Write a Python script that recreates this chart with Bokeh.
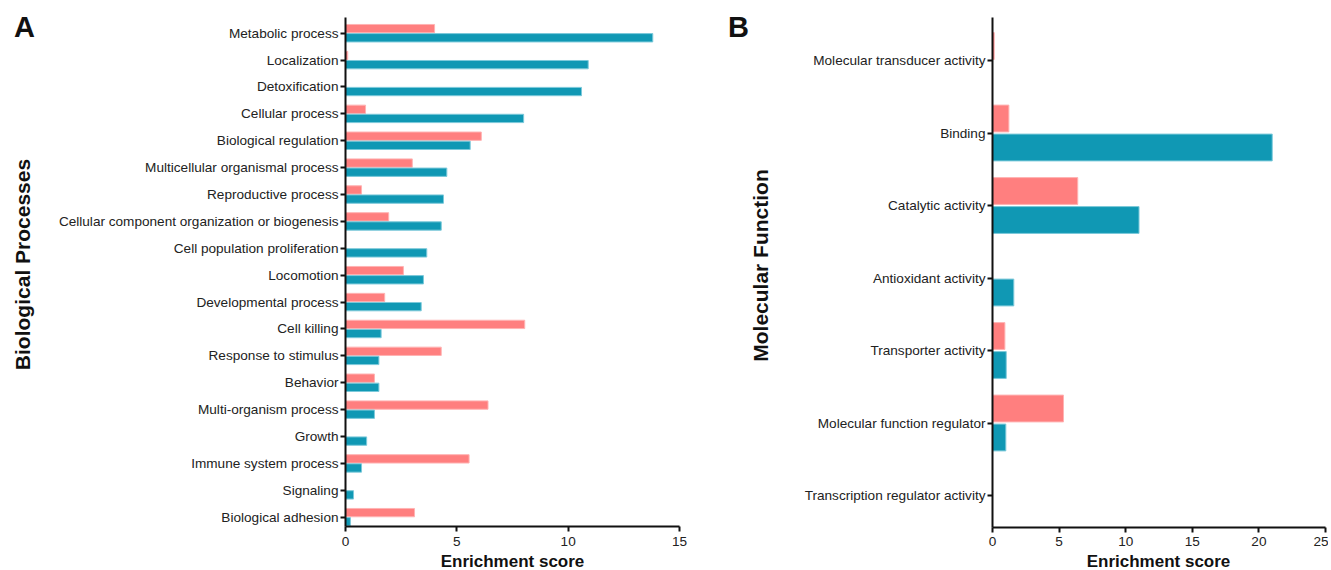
from bokeh.plotting import figure
from bokeh.models import ColumnDataSource, Range1d, FixedTicker, Label
from bokeh.layouts import row
from bokeh.transform import dodge
from bokeh.embed import file_html
from bokeh.resources import INLINE
import math

FONT = "Liberation Sans"
RED = "#ff7f7f"
BLUE = "#1098b4"
INK = "#111111"
H = 570

# Panel A: Biological Processes
bp_categories = [
    "Metabolic process", "Localization", "Detoxification", "Cellular process",
    "Biological regulation", "Multicellular organismal process", "Reproductive process",
    "Cellular component organization or biogenesis", "Cell population proliferation",
    "Locomotion", "Developmental process", "Cell killing", "Response to stimulus",
    "Behavior", "Multi-organism process", "Growth", "Immune system process",
    "Signaling", "Biological adhesion",
]
bp_red = [4.0, 0.1, 0.0, 0.9, 6.1, 3.0, 0.72, 1.94, 0.0, 2.6, 1.76, 8.05, 4.3, 1.3, 6.4, 0.0, 5.55, 0.0, 3.1]
bp_blue = [13.8, 10.9, 10.6, 8.0, 5.6, 4.55, 4.4, 4.3, 3.65, 3.5, 3.4, 1.6, 1.5, 1.5, 1.3, 0.95, 0.72, 0.36, 0.22]
bp_xmax = 15
bp_xticks = [0, 5, 10, 15]

# Panel B: Molecular Function
mf_categories = [
    "Molecular transducer activity", "Binding", "Catalytic activity",
    "Antioxidant activity", "Transporter activity", "Molecular function regulator",
    "Transcription regulator activity",
]
mf_red = [0.13, 1.23, 6.4, 0.0, 0.93, 5.33, 0.0]
mf_blue = [0.0, 21.0, 11.0, 1.6, 1.03, 1.0, 0.0]
mf_xmax = 25
mf_xticks = [0, 5, 10, 15, 20, 25]


def panel(width, x0_px, x1_px, xmax, cats, red, blue, first_px, last_px,
          top_px, axis_px, off, h, xticks):
    """Figure whose frame fills the canvas; axes are pinned at data positions."""
    ppx = (x1_px - x0_px) / xmax
    n = len(cats)
    ppc = (last_px - first_px) / (n - 1)
    xr = Range1d(start=-x0_px / ppx, end=(width - x0_px) / ppx)
    # start > end: first category drawn at the top
    yr = Range1d(start=(H - first_px) / ppc, end=-first_px / ppc)
    p = figure(width=width, height=H, output_backend="svg", toolbar_location=None,
               x_range=xr, y_range=yr,
               min_border_left=0, min_border_right=0,
               min_border_top=0, min_border_bottom=0)
    p.xgrid.visible = False
    p.ygrid.visible = False
    p.outline_line_color = None
    y_axis_data = (axis_px - first_px) / ppc
    y_top_data = (top_px - first_px) / ppc
    for ax in (p.xaxis[0], p.yaxis[0]):
        ax.axis_line_width = 2
        ax.axis_line_color = INK
        ax.major_tick_line_width = 2
        ax.major_tick_line_color = INK
        ax.major_tick_out = 5
        ax.major_tick_in = 0
        ax.minor_tick_line_color = None
        ax.major_label_text_font = FONT
        ax.major_label_text_font_size = "13.6px"
        ax.major_label_text_color = "#222222"
    p.xaxis.fixed_location = y_axis_data
    p.xaxis.bounds = (0, xmax)
    p.xaxis.ticker = FixedTicker(ticks=xticks)
    p.xaxis.major_label_standoff = 5
    p.yaxis.fixed_location = 0
    p.yaxis.bounds = (y_top_data, y_axis_data)
    p.yaxis.ticker = FixedTicker(ticks=list(range(n)))
    p.yaxis.major_label_overrides = {i: c for i, c in enumerate(cats)}
    p.yaxis.major_label_standoff = 2

    src = ColumnDataSource(dict(pos=list(range(n)), red=red, blue=blue))
    p.hbar(y=dodge("pos", -off, range=p.y_range), left=0, right="red", height=h,
           source=src, fill_color=RED, line_color="#ffb3b3", line_width=1)
    p.hbar(y=dodge("pos", off, range=p.y_range), left=0, right="blue", height=h,
           source=src, fill_color=BLUE, line_color="#7cc9da", line_width=1)
    return p


def texts(p, letter, lx, ytitle, tx, ty, cx):
    # screen units: canvas (= frame) bottom-left origin
    p.add_layout(Label(x=lx, y=H - 26, x_units="screen", y_units="screen", text=letter,
                       text_font=FONT, text_font_style="bold", text_font_size="29px",
                       text_align="center", text_baseline="middle", text_color=INK))
    p.add_layout(Label(x=tx, y=H - ty, x_units="screen", y_units="screen", text=ytitle,
                       angle=math.pi / 2, text_font=FONT, text_font_style="bold",
                       text_font_size="21px", text_align="center", text_baseline="middle",
                       text_color=INK))
    p.add_layout(Label(x=cx, y=9.5, x_units="screen", y_units="screen",
                       text="Enrichment score", text_font=FONT, text_font_style="bold",
                       text_font_size="17px", text_align="center", text_baseline="middle",
                       text_color=INK))


pa = panel(728, 345, 679, bp_xmax, bp_categories, bp_red, bp_blue,
           32.7, 516.7, 17, 526, 0.17, 0.31, bp_xticks)
texts(pa, "A", 24, "Biological Processes", 22, 264, 512)

pb = panel(600, 264, 597, mf_xmax, mf_categories, mf_red, mf_blue,
           60, 495, 17, 526.7, 0.2, 0.37, mf_xticks)
texts(pb, "B", 10, "Molecular Function", 32, 265, 430)

layout = row(pa, pb)
open("out.html", "w").write(file_html(layout, INLINE))
